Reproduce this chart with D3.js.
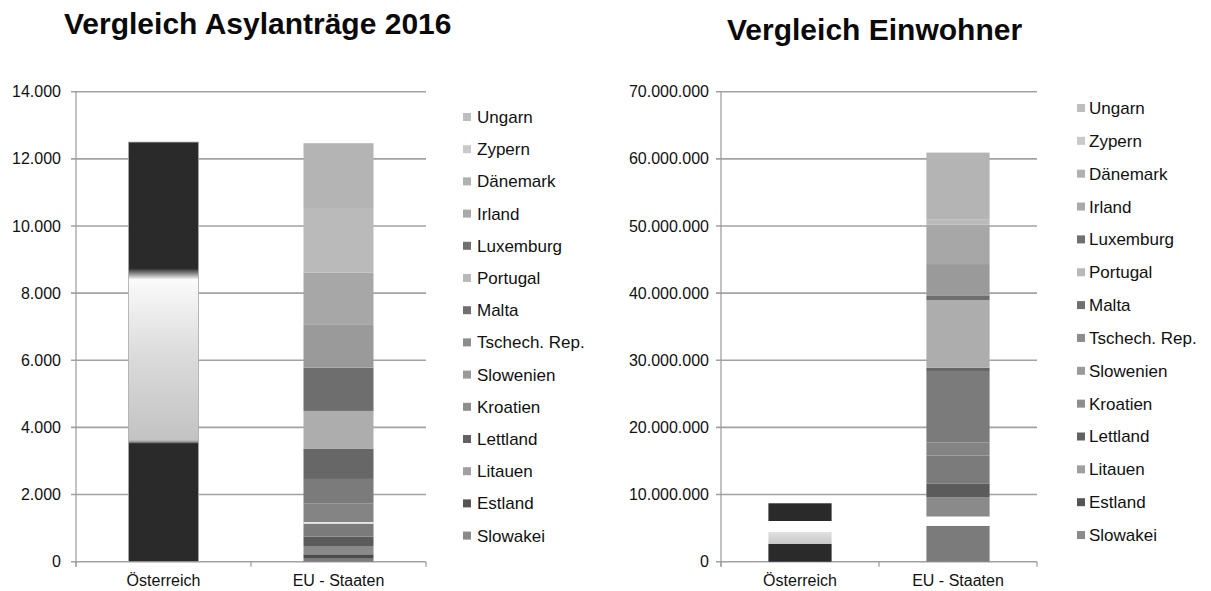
<!DOCTYPE html>
<html>
<head>
<meta charset="utf-8">
<script src="https://cdn.jsdelivr.net/npm/d3@7"></script>
<style>
  html, body { margin: 0; padding: 0; background: #fff; }
  svg { display: block; font-family: "Liberation Sans", Arial, sans-serif; }
</style>
</head>
<body>
<svg id="chart" width="1211" height="591"></svg>
<script>
// categories (x axis) and stack series, bottom -> top
const categories = ["Österreich", "EU - Staaten"]
const countries = ["Slowakei", "Estland", "Litauen", "Lettland", "Kroatien", "Slowenien",
    "Tschech. Rep.", "Malta", "Portugal", "Luxemburg", "Irland", "Dänemark", "Zypern", "Ungarn"]

// Asylanträge 2016
const asylAT = 12500
const asylEU = [110, 110, 248, 277, 430, 554, 736, 894, 1132, 1290, 1272, 1558, 1898, 1957]
const asylTicks = [0, 2000, 4000, 6000, 8000, 10000, 12000, 14000]

// Einwohner
const einwAT = 8700000
const einwEU = [5350000, 1380000, 2890000, 1980000, 4200000, 1950000, 10650000, 480000,
    10100000, 600000, 4750000, 5900000, 780000, 9920000]
const einwTicks = [0, 10000000, 20000000, 30000000, 40000000, 50000000, 60000000, 70000000]

// grey shades per country (bar fill / legend swatch)
const barColors = {
    "Slowakei": "#7b7b7b", "Estland": "#4b4b4b", "Litauen": "#8a8a8a", "Lettland": "#5b5b5b",
    "Kroatien": "#7b7b7b", "Slowenien": "#848484", "Tschech. Rep.": "#7b7b7b", "Malta": "#676767",
    "Portugal": "#adadad", "Luxemburg": "#6e6e6e", "Irland": "#9a9a9a", "Dänemark": "#a7a7a7",
    "Zypern": "#bababa", "Ungarn": "#b4b4b4"
}
const swatchColors = {
    "Slowakei": "#8a8a8a", "Estland": "#555555", "Litauen": "#a0a0a0", "Lettland": "#626262",
    "Kroatien": "#8e8e8e", "Slowenien": "#9a9a9a", "Tschech. Rep.": "#8c8c8c", "Malta": "#707070",
    "Portugal": "#b9b9b9", "Luxemburg": "#707070", "Irland": "#a9a9a9", "Dänemark": "#b0b0b0",
    "Zypern": "#c9c9c9", "Ungarn": "#bebebe"
}

const de = d3.formatLocale({decimal: ",", thousands: ".", grouping: [3], currency: ["", " €"]})
const fmt = de.format(",d")

const svg = d3.select("#chart")
const defs = svg.append("defs")

function gradient(id, stops) {
    const g = defs.append("linearGradient")
        .attr("id", id)
        .attr("x1", 0).attr("y1", 1).attr("x2", 0).attr("y2", 0)
    g.selectAll("stop").data(stops).join("stop")
        .attr("offset", d => d[0])
        .attr("stop-color", d => d[1])
}

gradient("atLeft", [[0, "#2a2a2a"], [0.281, "#2a2a2a"], [0.285, "#909090"], [0.29, "#c3c3c3"],
    [0.5, "#dcdcdc"], [0.66, "#f8f8f8"], [0.672, "#fdfdfd"], [0.686, "#8e8e8e"], [0.699, "#2a2a2a"], [1, "#2a2a2a"]])
gradient("atRight", [[0, "#2a2a2a"], [0.296, "#2a2a2a"], [0.30, "#c7c7c7"], [0.512, "#e1e1e1"],
    [0.515, "#ffffff"], [0.694, "#ffffff"], [0.698, "#2a2a2a"], [1, "#2a2a2a"]])

function drawChart(o) {
    const keys = ["Österreich", ...countries]
    const rows = categories.map(c => {
        const r = {cat: c}
        r["Österreich"] = c === "Österreich" ? o.at : 0
        countries.forEach((k, i) => r[k] = c === "Österreich" ? 0 : o.eu[i])
        return r
    })
    const series = d3.stack().keys(keys)(rows)

    const x = d3.scaleBand().domain(categories).range([o.x0, o.x1])
        .paddingInner(0.6).paddingOuter(0.3)
    const y = d3.scaleLinear().domain([0, o.ticks[o.ticks.length - 1]]).range([o.y0, o.y1])

    const g = svg.append("g")

    // title
    g.append("text")
        .attr("x", o.titleX).attr("y", o.titleY)
        .attr("font-size", 30).attr("font-weight", "bold").attr("fill", "#0a0a0a")
        .text(o.title)

    // grid lines + tick labels
    g.append("g").selectAll("line").data(o.ticks).join("line")
        .attr("x1", o.x0 - 5).attr("x2", o.x1)
        .attr("y1", d => y(d)).attr("y2", d => y(d))
        .attr("stroke", "#a2a2a2").attr("stroke-width", 1.6)
    g.append("g").selectAll("text").data(o.ticks).join("text")
        .attr("x", o.labelX).attr("y", d => y(d))
        .attr("dy", "0.35em").attr("text-anchor", "end")
        .attr("font-size", 16).attr("fill", "#111")
        .text(d => fmt(d))

    // axes
    g.append("line")
        .attr("x1", o.x0).attr("x2", o.x0).attr("y1", o.y1).attr("y2", o.y0 + 5)
        .attr("stroke", "#9a9a9a").attr("stroke-width", 1.2)
    const step = x.step()
    g.append("g").selectAll("line").data([0, 1, 2]).join("line")
        .attr("x1", i => o.x0 + i * step).attr("x2", i => o.x0 + i * step)
        .attr("y1", o.y0).attr("y2", o.y0 + 5)
        .attr("stroke", "#9a9a9a").attr("stroke-width", 1.2)
    g.append("g").selectAll("text").data(categories).join("text")
        .attr("x", d => x(d) + x.bandwidth() / 2).attr("y", 586)
        .attr("text-anchor", "middle").attr("font-size", 16).attr("fill", "#111")
        .text(d => d)

    // stacked bars
    g.append("g").selectAll("g").data(series).join("g")
        .attr("fill", s => s.key === "Österreich" ? `url(#${o.gradient})` : (o.override[s.key] || barColors[s.key]))
        .attr("stroke", s => s.key === "Österreich" ? o.atStroke : null)
        .attr("stroke-width", 0.8)
        .selectAll("rect").data(s => s.filter(d => d[1] > d[0])).join("rect")
        .attr("x", d => x(d.data.cat))
        .attr("width", x.bandwidth())
        .attr("y", d => y(d[1]))
        .attr("height", d => y(d[0]) - y(d[1]))

    // thin white separator line inside the EU stack
    if (o.whiteLineAbove) {
        const s = series.find(s => s.key === o.whiteLineAbove)
        const d = s[1]
        g.append("line")
            .attr("x1", x(d.data.cat)).attr("x2", x(d.data.cat) + x.bandwidth())
            .attr("y1", y(d[1]) + 0.8).attr("y2", y(d[1]) + 0.8)
            .attr("stroke", "#fff").attr("stroke-width", 1.6)
    }

    // legend, top = last series
    const legendItems = countries.slice().reverse()
    const lg = g.append("g").selectAll("g").data(legendItems).join("g")
        .attr("transform", (d, i) => `translate(${o.legendX},${o.legendY + i * o.legendStep})`)
    lg.append("rect")
        .attr("x", 0).attr("y", -4).attr("width", 8).attr("height", 8)
        .attr("fill", d => swatchColors[d])
    lg.append("text")
        .attr("x", o.legendTextDx).attr("y", 0).attr("dy", "0.35em")
        .attr("font-size", 17).attr("fill", "#111")
        .text(d => d)
}

drawChart({
    title: "Vergleich Asylanträge 2016", titleX: 64, titleY: 34,
    at: asylAT, eu: asylEU, ticks: asylTicks,
    x0: 76, x1: 426, y0: 561.7, y1: 91.7, labelX: 61,
    gradient: "atLeft", atStroke: "#a8a8a8", override: {}, whiteLineAbove: "Kroatien",
    legendX: 463, legendY: 117, legendStep: 32.2, legendTextDx: 14
})

drawChart({
    title: "Vergleich Einwohner", titleX: 727, titleY: 40,
    at: einwAT, eu: einwEU, ticks: einwTicks,
    x0: 721, x1: 1037, y0: 561.7, y1: 91.7, labelX: 709,
    gradient: "atRight", atStroke: null, override: {"Estland": "#ffffff"}, whiteLineAbove: null,
    legendX: 1077, legendY: 108, legendStep: 32.85, legendTextDx: 12
})
</script>
</body>
</html>
